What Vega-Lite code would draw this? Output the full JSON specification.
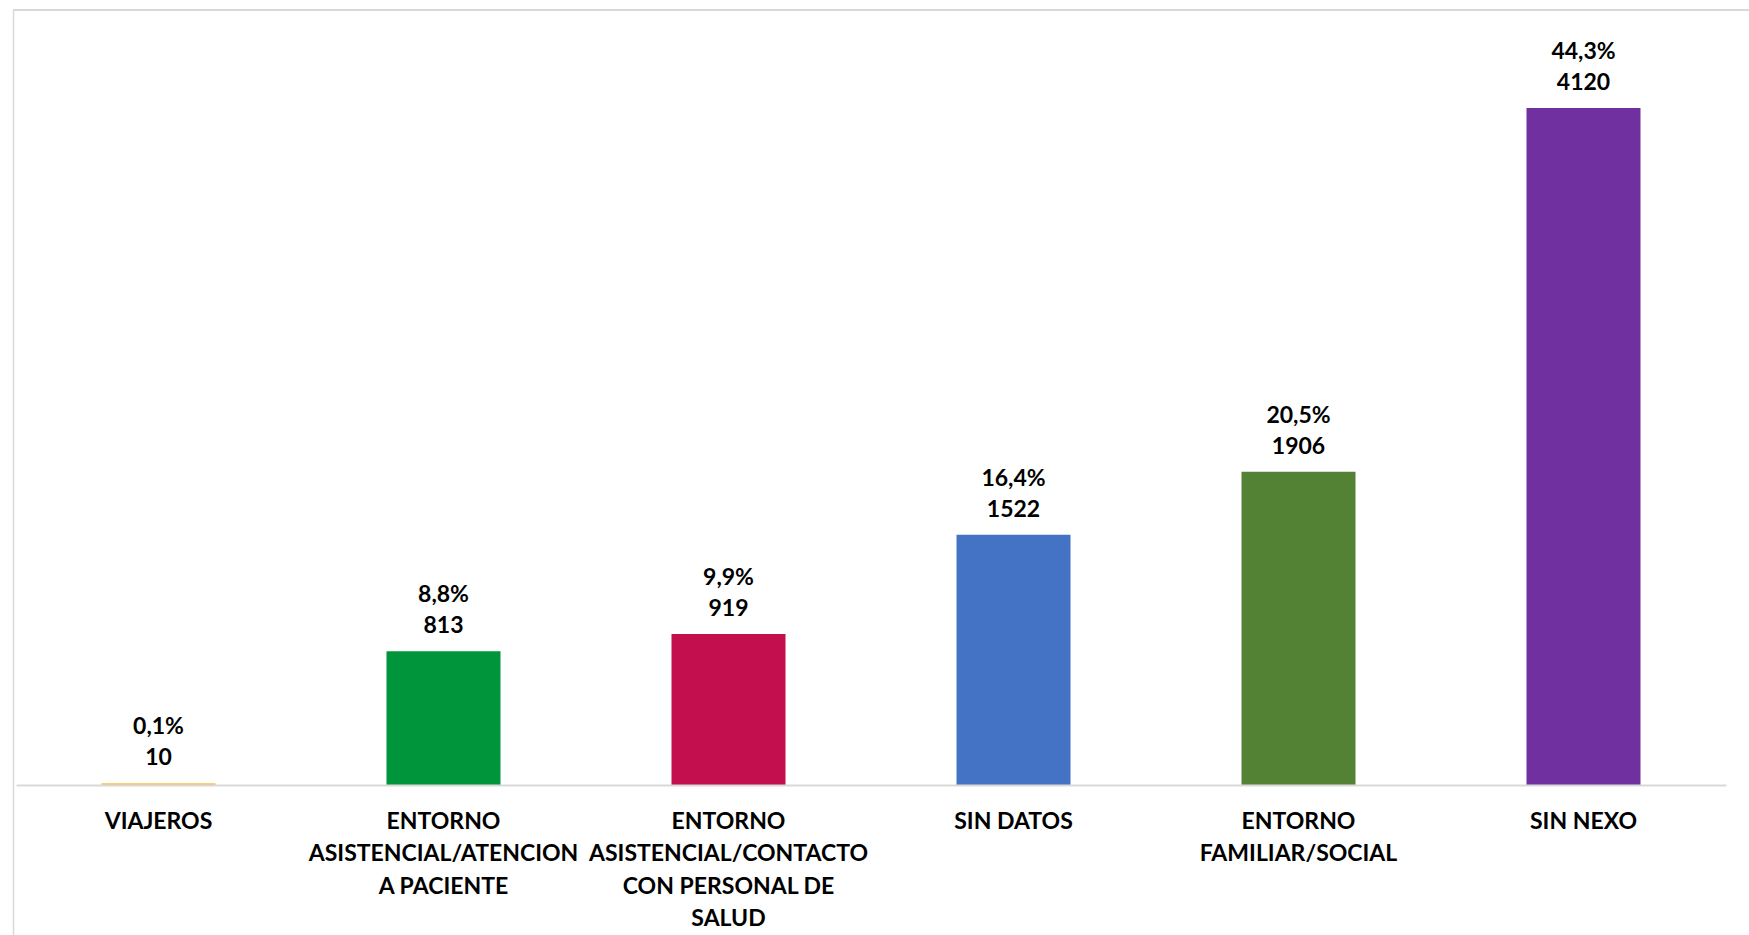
{
  "$schema": "https://vega.github.io/schema/vega-lite/v6.json",
  "autosize": {"type": "none"},
  "width": 1736,
  "height": 925,
  "padding": {"left": 13, "top": 10, "right": 0, "bottom": 0},
  "background": "white",
  "config": {
    "view": {"stroke": null},
    "font": "Lato"
  },
  "data": {
    "values": [
      {"cat": "VIAJEROS", "n": 10, "pct": "0,1%", "color": "#F5C242"},
      {"cat": "ENTORNO|ASISTENCIAL/ATENCION|A PACIENTE", "n": 813, "pct": "8,8%", "color": "#00953B"},
      {"cat": "ENTORNO|ASISTENCIAL/CONTACTO|CON PERSONAL DE|SALUD", "n": 919, "pct": "9,9%", "color": "#C30F4D"},
      {"cat": "SIN DATOS", "n": 1522, "pct": "16,4%", "color": "#4472C4"},
      {"cat": "ENTORNO|FAMILIAR/SOCIAL", "n": 1906, "pct": "20,5%", "color": "#548235"},
      {"cat": "SIN NEXO", "n": 4120, "pct": "44,3%", "color": "#7030A0"}
    ]
  },
  "encoding": {
    "x": {
      "field": "cat",
      "type": "nominal",
      "sort": null,
      "scale": {"range": [3, 1713], "paddingInner": 0.6, "paddingOuter": 0.3},
      "axis": {
        "title": null,
        "offset": -150,
        "labelAngle": 0,
        "labelExpr": "split(datum.label, '|')",
        "labelFont": "Lato",
        "labelFontWeight": "bold",
        "labelFontSize": 23,
        "labelLineHeight": 32.5,
        "labelColor": "#000000",
        "labelBaseline": "top",
        "labelPadding": 25,
        "labelLimit": 400,
        "ticks": false,
        "domainColor": "#d9d9d9",
        "domainWidth": 2,
        "zindex": 1
      }
    },
    "y": {
      "field": "n",
      "type": "quantitative",
      "scale": {"domain": [-913, 4716], "nice": false, "zero": false},
      "axis": {
        "title": null,
        "labels": false,
        "ticks": false,
        "grid": false,
        "domainColor": "#d9d9d9",
        "domainWidth": 1.5
      }
    }
  },
  "layer": [
    {
      "mark": {"type": "rule", "color": "#d9d9d9", "strokeWidth": 1.5},
      "encoding": {"x": null, "y": {"datum": 4716, "type": "quantitative"}}
    },
    {
      "mark": {"type": "bar"},
      "encoding": {
        "y2": {"datum": 0},
        "color": {"field": "color", "type": "nominal", "scale": null}
      }
    },
    {
      "mark": {"type": "text", "baseline": "middle", "dy": -56, "font": "Lato", "fontWeight": "bold", "fontSize": 23, "color": "#000000"},
      "encoding": {"text": {"field": "pct"}}
    },
    {
      "mark": {"type": "text", "baseline": "middle", "dy": -25, "font": "Lato", "fontWeight": "bold", "fontSize": 23, "color": "#000000"},
      "encoding": {"text": {"field": "n", "type": "quantitative", "format": "d"}}
    }
  ]
}
